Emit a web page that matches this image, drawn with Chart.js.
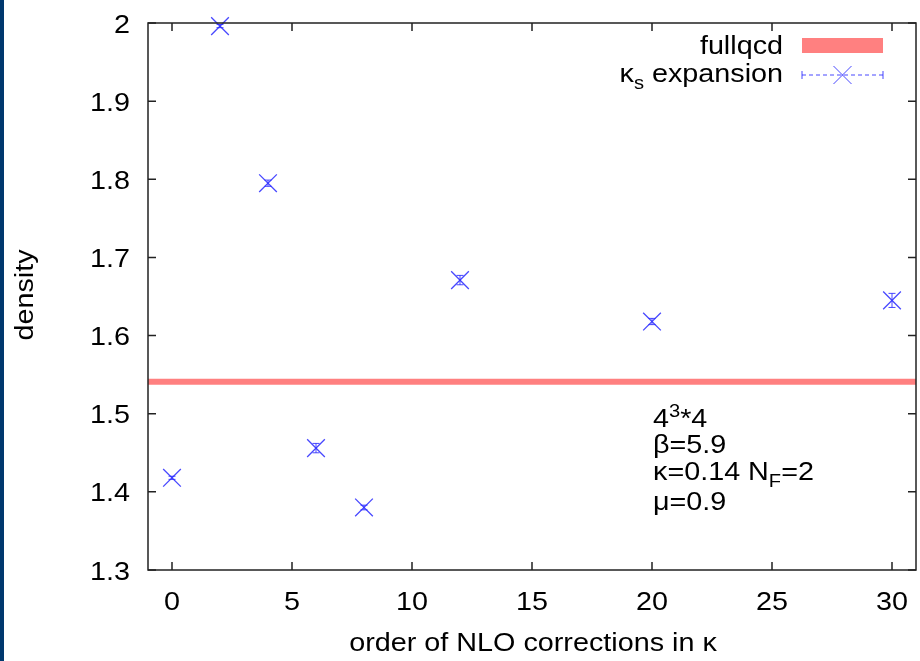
<!DOCTYPE html>
<html>
<head>
<meta charset="utf-8">
<script src="https://cdn.jsdelivr.net/npm/chart.js@4"></script>
<style>
  html, body { margin: 0; padding: 0; background: #fff; }
  body { width: 920px; height: 661px; position: relative; overflow: hidden; }
  #strip { position: absolute; left: 0; top: 0; width: 4px; height: 661px; background: #00386e; }
  #wrap { position: absolute; left: 0; top: 0; width: 920px; height: 661px; }
</style>
</head>
<body>
<div id="wrap"><canvas id="myChart" width="920" height="661"></canvas></div>
<div id="strip"></div>
<script>
// kappa_s expansion: order of corrections vs density
const orders = [0, 2, 4, 6, 8, 12, 20, 30];
const density = [1.418, 1.996, 1.795, 1.456, 1.380, 1.671, 1.618, 1.645];
const densityErr = [0.002, 0.002, 0.004, 0.006, 0.003, 0.006, 0.004, 0.009];
// full QCD reference value
const fullqcd = 1.541;
const xTicks = [0, 5, 10, 15, 20, 25, 30];
const yTicks = [1.3, 1.4, 1.5, 1.6, 1.7, 1.8, 1.9, 2];

const FONT = '"Liberation Sans", Arial, Helvetica, sans-serif';
const SIZE = 25;
const SX = 1.15;   // wide lettering
const BLUE = 'rgba(40,40,255,0.85)';
const RED = '#ff8080';

function partsWidth(ctx, parts, size) {
    let w = 0;
    parts.forEach(p => {
        const s = (p.sup || p.sub) ? size * 0.7 : size;
        ctx.font = s + 'px ' + FONT;
        w += ctx.measureText(p.t).width;
    });
    return w;
}
// text with ^{..} / _{..} runs, stretched along its baseline
function drawText(ctx, parts, x, y, align, angle) {
    if (typeof parts === 'string') parts = [{t: parts}];
    const w = partsWidth(ctx, parts, SIZE);
    ctx.save();
    ctx.translate(x, y);
    if (angle) ctx.rotate(angle);
    ctx.scale(SX, 1);
    ctx.textAlign = 'left';
    ctx.textBaseline = 'alphabetic';
    let cx = align === 'right' ? -w : align === 'center' ? -w / 2 : 0;
    parts.forEach(p => {
        let s = SIZE, dy = 0;
        if (p.sup) { s = SIZE * 0.7; dy = -SIZE * 0.42; }
        if (p.sub) { s = SIZE * 0.7; dy = SIZE * 0.28; }
        ctx.font = s + 'px ' + FONT;
        ctx.fillText(p.t, cx, dy);
        cx += ctx.measureText(p.t).width;
    });
    ctx.restore();
}

const framePlugin = {
    id: 'frame',
    afterDatasetsDraw(chart) {
        const {ctx, chartArea: a, scales: {x, y}} = chart;
        ctx.save();
        // error bars
        ctx.strokeStyle = BLUE;
        ctx.lineWidth = 1;
        orders.forEach((o, i) => {
            const px = x.getPixelForValue(o);
            const y1 = y.getPixelForValue(density[i] + densityErr[i]);
            const y2 = y.getPixelForValue(density[i] - densityErr[i]);
            ctx.beginPath();
            ctx.moveTo(px, y1); ctx.lineTo(px, y2);
            ctx.moveTo(px - 3.5, y1); ctx.lineTo(px + 3.5, y1);
            ctx.moveTo(px - 3.5, y2); ctx.lineTo(px + 3.5, y2);
            ctx.stroke();
        });
        // border
        ctx.strokeStyle = '#222';
        ctx.lineWidth = 1.5;
        ctx.strokeRect(a.left, a.top, a.right - a.left, a.bottom - a.top);
        // inward ticks on all four sides
        const t = 8;
        ctx.beginPath();
        xTicks.forEach(v => {
            const px = x.getPixelForValue(v);
            ctx.moveTo(px, a.bottom); ctx.lineTo(px, a.bottom - t);
            ctx.moveTo(px, a.top); ctx.lineTo(px, a.top + t);
        });
        yTicks.forEach(v => {
            const py = y.getPixelForValue(v);
            ctx.moveTo(a.left, py); ctx.lineTo(a.left + t, py);
            ctx.moveTo(a.right, py); ctx.lineTo(a.right - t, py);
        });
        ctx.stroke();

        // tick labels and axis titles
        ctx.fillStyle = '#000';
        xTicks.forEach(v => drawText(ctx, String(v), x.getPixelForValue(v), a.bottom + 40, 'center'));
        yTicks.forEach(v => drawText(ctx, String(v), a.left - 18, y.getPixelForValue(v) + 9.5, 'right'));
        drawText(ctx, 'order of NLO corrections in κ', 533, 651, 'center');
        drawText(ctx, 'density', 33, 295, 'center', -Math.PI / 2);

        // key
        const kx = 783, sx1 = 802, sx2 = 883;
        drawText(ctx, 'fullqcd', kx, 54, 'right');
        ctx.fillStyle = RED;
        ctx.fillRect(sx1, 38, sx2 - sx1, 15);
        ctx.fillStyle = '#000';
        drawText(ctx, [{t: 'κ'}, {t: 's', sub: true}, {t: ' expansion'}], kx, 82, 'right');
        ctx.strokeStyle = BLUE;
        ctx.lineWidth = 1;
        ctx.setLineDash([4, 3]);
        ctx.beginPath(); ctx.moveTo(sx1, 75); ctx.lineTo(sx2, 75); ctx.stroke();
        ctx.setLineDash([]);
        ctx.beginPath();
        ctx.moveTo(sx1, 71); ctx.lineTo(sx1, 79);
        ctx.moveTo(sx2, 71); ctx.lineTo(sx2, 79);
        const cx = (sx1 + sx2) / 2;
        ctx.moveTo(cx - 9, 66); ctx.lineTo(cx + 9, 84);
        ctx.moveTo(cx - 9, 84); ctx.lineTo(cx + 9, 66);
        ctx.stroke();

        // run parameters
        ctx.fillStyle = '#000';
        const lx = 653;
        drawText(ctx, [{t: '4'}, {t: '3', sup: true}, {t: '*4'}], lx, 427, 'left');
        drawText(ctx, 'β=5.9', lx, 453, 'left');
        drawText(ctx, [{t: 'κ=0.14 N'}, {t: 'F', sub: true}, {t: '=2'}], lx, 480, 'left');
        drawText(ctx, 'μ=0.9', lx, 510, 'left');
        ctx.restore();
    }
};

const points = orders.map((o, i) => ({x: o, y: density[i]}));

new Chart(document.getElementById('myChart').getContext('2d'), {
    type: 'scatter',
    data: {
        datasets: [{
            label: 'fullqcd',
            type: 'line',
            data: [{x: -1, y: fullqcd}, {x: 31, y: fullqcd}],
            borderColor: RED,
            borderWidth: 6,
            pointRadius: 0,
            order: 2
        }, {
            label: 'κs expansion',
            data: points,
            pointStyle: 'crossRot',
            pointRadius: 12.5,
            pointHoverRadius: 12.5,
            borderColor: BLUE,
            backgroundColor: BLUE,
            borderWidth: 1.3,
            order: 1
        }]
    },
    options: {
        responsive: false,
        animation: false,
        events: [],
        clip: false,
        layout: {autoPadding: false, padding: {left: 4, right: 4, top: 23, bottom: 0}},
        plugins: {legend: {display: false}, tooltip: {enabled: false}},
        scales: {
            x: {
                type: 'linear',
                min: -1, max: 31,
                afterFit: s => { s.height = 91; s.paddingLeft = 0; s.paddingRight = 0; },
                grid: {display: false, drawTicks: false},
                border: {display: false},
                ticks: {display: false}
            },
            y: {
                type: 'linear',
                min: 1.3, max: 2,
                afterFit: s => { s.width = 144; s.paddingTop = 0; s.paddingBottom = 0; },
                grid: {display: false, drawTicks: false},
                border: {display: false},
                ticks: {display: false}
            }
        }
    },
    plugins: [framePlugin]
});
</script>
</body>
</html>
